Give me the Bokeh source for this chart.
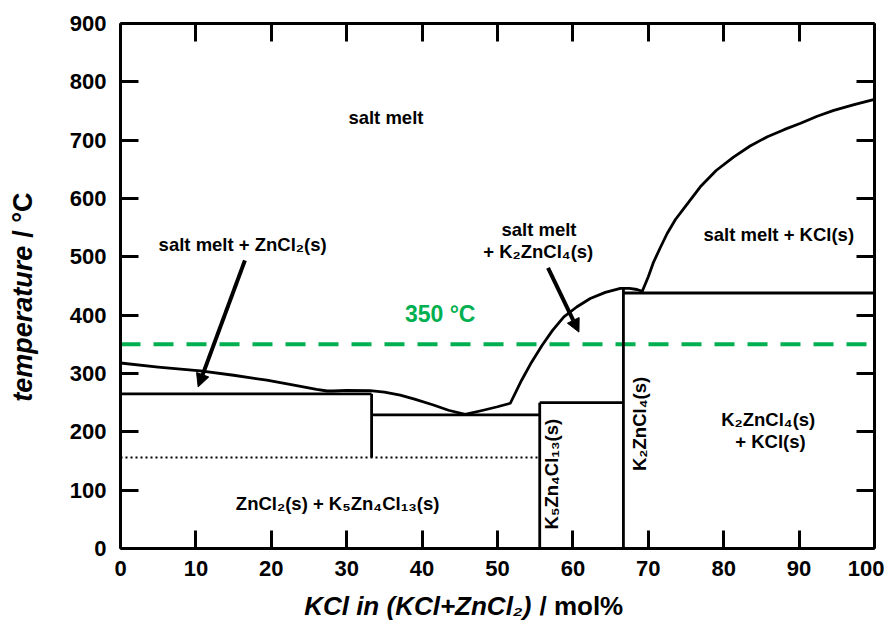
import math
from bokeh.plotting import figure
from bokeh.models import (Range1d, LinearAxis, FixedTicker, Label, Arrow, NormalHead,
                          CustomJSTickFormatter)
from bokeh.core.properties import value
from bokeh.embed import file_html
from bokeh.resources import INLINE

FONT = "Liberation Sans"

# ---------------- data ----------------
x_ticks = [0, 10, 20, 30, 40, 50, 60, 70, 80, 90, 100]
y_ticks = [0, 100, 200, 300, 400, 500, 600, 700, 800, 900]

# liquidus curve, ZnCl2 side to KCl side
liq_x = [0, 5, 10.6, 15, 19.4, 23, 26, 27.4, 28.2, 30, 33.1, 35, 37.1, 39, 41.5, 43.5, 45.7,
         48.1, 50, 51.7, 53.2, 54.5, 55.9, 57.3, 58.8, 60.5, 62.3, 64.3, 66.3, 67.5, 68.5, 69.2,
         70, 70.7, 71.6, 72.5, 73.6, 74.9, 76.9, 79, 81.3, 83.5, 85.8, 88, 90.2, 92.4, 94.6, 97.3, 100]
liq_y = [318, 311, 304.5, 297, 288.5, 280, 272.6, 270, 270, 271, 270.5, 268, 263, 256, 246, 237, 230,
         237, 243, 249, 288.5, 319, 348, 374, 397, 414, 428.6, 439, 446, 446, 444, 441,
         466, 491, 516, 540, 564, 586, 620, 648, 671, 690, 706, 718, 729, 741, 751, 761, 770]

# solid phase boundaries (segments)
seg_x0 = [0, 33.3, 33.3, 55.6, 55.6, 66.7, 66.7]
seg_y0 = [265, 265, 229, 250, 250, 446, 438]
seg_x1 = [33.3, 33.3, 55.6, 66.7, 55.6, 66.7, 100]
seg_y1 = [265, 156, 229, 250, 0, 0, 438]

# dotted transition line
dot_x = [0, 55.6]
dot_y = [156, 156]

# 350 °C reference line
ref_x = [0, 100]
ref_y = [350, 350]

# region labels
lab_text = ["salt melt", "salt melt + ZnCl₂(s)", "salt melt", "+ K₂ZnCl₄(s)",
            "salt melt + KCl(s)", "ZnCl₂(s) + K₅Zn₄Cl₁₃(s)", "K₂ZnCl₄(s)", "+ KCl(s)"]
lab_x = [35.2, 16.2, 55.5, 55.4, 87.3, 28.8, 85.9, 86.2]
lab_y = [739, 521, 547, 510, 538, 78, 221, 183]

vlab_text = ["K₅Zn₄Cl₁₃(s)", "K₂ZnCl₄(s)"]
vlab_x = [57.1, 68.8]
vlab_y = [127.5, 213.5]

ref_text = ["350 °C"]
ref_tx = [42.4]
ref_ty = [401.7]

# arrows (start -> end)
arr_x0 = [16.5, 56.7]
arr_y0 = [494, 481]
arr_x1 = [10.3, 60.8]
arr_y1 = [277, 371]

# axis titles: (italic part, upright part)
x_title = ("KCl in (KCl+ZnCl₂)", "/ mol%")
y_title = ("temperature", "/ °C")

# ---------------- figure ----------------
p = figure(frame_width=754, frame_height=525, output_backend="svg", toolbar_location=None,
           x_range=Range1d(0, 100), y_range=Range1d(0, 900),
           min_border_left=120, min_border_right=10, min_border_top=23, min_border_bottom=79,
           x_axis_location=None, y_axis_location=None)
p.xgrid.visible = False
p.ygrid.visible = False
p.outline_line_color = None
p.background_fill_color = "white"
p.border_fill_color = "white"


def style_axis(ax, ticks, show_labels, standoff):
    ax.ticker = FixedTicker(ticks=ticks)
    ax.axis_line_width = 3
    ax.axis_line_color = "black"
    ax.major_tick_line_width = 3
    ax.major_tick_line_color = "black"
    ax.major_tick_in = 18
    ax.major_tick_out = 0
    ax.minor_tick_line_color = None
    ax.major_label_text_font = FONT
    ax.major_label_text_font_style = "bold"
    ax.major_label_text_color = "black"
    ax.major_label_text_font_size = "22px"
    if show_labels:
        ax.major_label_standoff = standoff
    else:
        ax.formatter = CustomJSTickFormatter(code="return ''")
        ax.major_label_standoff = 0


xb = LinearAxis(); style_axis(xb, x_ticks, True, 12); p.add_layout(xb, "below")
yl = LinearAxis(); style_axis(yl, y_ticks, True, 14); p.add_layout(yl, "left")
xt = LinearAxis(); style_axis(xt, x_ticks, False, 0); p.add_layout(xt, "above")
yr = LinearAxis(); style_axis(yr, y_ticks, False, 0); p.add_layout(yr, "right")

# reference line
p.line(ref_x, ref_y, line_color="#00B050", line_width=4, line_dash="20 13")

# dotted
p.line(dot_x, dot_y, line_color="black", line_width=2, line_dash="2 3")

# phase boundaries
p.segment(x0=seg_x0, y0=seg_y0, x1=seg_x1, y1=seg_y1, line_color="black", line_width=2.8)

# liquidus
p.line(liq_x, liq_y, line_color="black", line_width=2.8, line_join="round")

# arrows
for xs, ys, xe, ye in zip(arr_x0, arr_y0, arr_x1, arr_y1):
    p.add_layout(Arrow(end=NormalHead(size=13, fill_color="black", line_color="black", line_width=1),
                       x_start=xs, y_start=ys, x_end=xe, y_end=ye,
                       line_width=4, line_color="black"))

# labels
p.text(x=lab_x, y=lab_y, text=lab_text, text_font=value(FONT), text_font_style="bold",
       text_font_size="18.5px", text_align="center", text_baseline="middle", text_color="black")
p.text(x=vlab_x, y=vlab_y, text=vlab_text, angle=math.pi / 2, text_font=value(FONT),
       text_font_style="bold", text_font_size="18.5px", text_align="center",
       text_baseline="middle", text_color="black")
p.text(x=ref_tx, y=ref_ty, text=ref_text, text_font=value(FONT), text_font_style="bold",
       text_font_size="23px", text_align="center", text_baseline="middle", text_color="#00B050")

# axis titles (mixed italic / upright); put in side panels so they are not clipped by the frame
cx = dict(text_font=FONT, text_font_size="26px", text_color="black", text_baseline="middle")
cy = dict(text_font=FONT, text_font_size="27px", text_color="black", text_baseline="middle")
p.add_layout(Label(x=54.5, y=-99, text=x_title[0], text_align="right",
                   text_font_style="bold italic", **cx), "below")
p.add_layout(Label(x=54.5, y=-99, x_offset=8, text=x_title[1], text_align="left",
                   text_font_style="bold", **cx), "below")
p.add_layout(Label(x=-12.9, y=519, text=y_title[0], text_align="right", angle=math.pi / 2,
                   text_font_style="bold italic", **cy), "left")
p.add_layout(Label(x=-12.9, y=519, y_offset=8, text=y_title[1], text_align="left",
                   angle=math.pi / 2, text_font_style="bold", **cy), "left")

open("out.html", "w").write(file_html(p, INLINE))
